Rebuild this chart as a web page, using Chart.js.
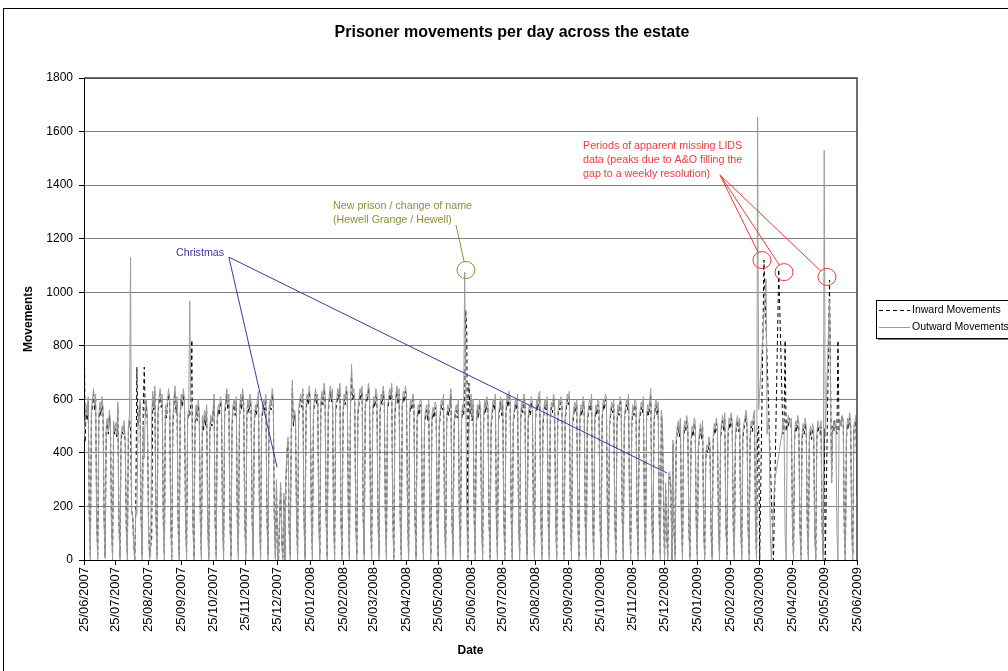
<!DOCTYPE html>
<html>
<head>
<meta charset="utf-8">
<title>Prisoner movements per day across the estate</title>
<script src="https://cdn.jsdelivr.net/npm/chart.js@4.4.0/dist/chart.umd.min.js"></script>
<style>
    html, body { margin: 0; padding: 0; background: #fff; overflow: hidden; }
    #chartWrap { width: 1024px; height: 671px; position: relative; }
</style>
</head>
<body>
<div id="chartWrap"><canvas id="movementsChart"></canvas></div>
<script>
// Daily values, one row per week (Monday to Sunday), starting Monday 25/06/2007
// null = day missing from LIDS, the line is carried straight across
const inwardMovements = [
    [1060,440,560,520,590,170,20], [540,580,620,560,600,150,20], [520,570,540,590,550,160,10],
    [480,510,470,540,500,140,20], [500,470,490,460,570,150,10], [440,480,470,500,430,130,20],
    [480,520,500,190,160,60,0], [200,720,500,540,580,170,20], [560,720,540,580,500,150,10],
    [50,80,610,560,630,180,20], [540,590,620,570,600,150,20], [560,530,580,620,590,160,10],
    [500,580,630,550,590,150,20], [540,600,570,620,580,170,20], [520,560,540,580,821,150,10],
    [500,560,520,580,540,160,20], [520,480,540,500,560,150,10], [480,520,500,540,600,150,20],
    [520,560,540,590,570,170,20], [540,580,620,560,600,160,10], [500,560,580,540,590,150,20],
    [520,600,560,620,580,170,20], [540,580,550,600,570,160,10], [500,560,540,580,610,150,20],
    [520,550,580,560,600,170,20], [540,580,560,620,590,160,10], [280,20,0,160,270,80,10],
    [230,0,300,400,440,120,20], [460,640,500,540,520,160,20], [540,580,600,570,620,170,10],
    [560,600,580,630,590,160,20], [540,590,620,580,600,170,20], [570,610,580,640,600,160,10],
    [550,600,630,590,620,170,20], [560,580,620,600,640,160,20], [540,600,580,630,610,170,10],
    [560,700,600,620,590,160,20], [540,580,620,600,630,170,20], [570,600,590,640,610,160,10],
    [540,590,570,620,600,170,20], [550,600,580,630,590,160,20], [560,580,620,600,640,170,10],
    [540,600,630,580,620,160,20], [570,610,590,630,600,170,20], [540,580,560,600,580,160,10],
    [520,560,540,580,570,150,20], [500,540,560,520,580,160,20], [520,550,530,570,560,150,10],
    [500,540,580,560,600,160,20], [520,560,540,580,620,150,20], [500,540,560,530,580,160,10],
    [520,560,540,600,933,847,10], [660,540,600,520,580,160,20], [500,560,530,580,550,150,20],
    [520,580,550,590,560,160,10], [500,540,580,560,600,150,20], [520,560,590,540,580,160,20],
    [540,600,570,610,580,170,10], [510,550,580,560,600,150,20], [530,570,550,600,580,160,20],
    [510,560,540,590,570,150,10], [520,580,560,600,610,160,20], [500,550,580,560,590,150,20],
    [530,570,550,600,580,170,10], [510,580,560,590,570,160,20], [520,560,600,580,610,150,20],
    [500,540,570,550,580,160,10], [520,560,540,590,570,150,20], [500,550,580,560,600,160,20],
    [510,560,540,580,570,150,10], [520,580,560,600,590,160,20], [500,540,570,550,580,150,20],
    [510,560,540,590,570,160,10], [520,550,580,560,600,150,20], [500,560,540,580,570,160,20],
    [510,540,570,550,590,150,10], [520,560,540,580,620,160,20], [500,560,580,540,570,150,20],
    [540,500,230,0,270,110,10], [300,310,260,0,430,110,20], [430,480,500,460,510,140,20],
    [450,500,480,520,490,130,10], [430,480,460,510,500,140,20], [410,460,490,450,500,120,20],
    [380,410,400,440,420,110,10], [440,490,470,510,480,130,20], [450,500,520,480,530,140,20],
    [460,510,490,530,500,130,10], [440,500,520,480,510,140,20], [450,490,510,540,500,130,20],
    [460,500,480,520,540,140,10], [480,500,0,null,null,null,1120], [null,null,null,null,null,null,null],
    [null,0,null,null,null,null,1085], [null,null,null,470,490,820,480], [520,500,530,510,490,120,10],
    [450,500,480,520,490,140,20], [440,490,470,510,480,130,20], [460,480,450,490,470,120,10],
    [450,500,480,470,500,130,20], [490,0,null,null,null,1045,null], [290,500,480,520,500,470,820],
    [480,520,500,540,510,100,0], [450,510,490,530,500,130,20], [480,500,520,240]
].flat();

const outwardMovements = [
    [450,520,580,540,610,150,0], [560,600,640,580,620,120,0], [540,590,560,610,570,140,5],
    [500,530,480,560,520,110,0], [520,480,510,470,590,130,0], [460,500,480,520,440,100,0],
    [500,540,1130,180,170,60,0], [190,170,480,560,600,150,0], [500,380,560,600,520,120,0],
    [20,540,630,580,650,160,0], [560,610,640,590,620,130,0], [580,550,600,640,610,140,0],
    [520,600,650,570,610,120,0], [560,620,590,640,600,150,0], [540,560,968,600,580,130,0],
    [520,580,540,600,560,140,0], [540,500,560,520,580,120,0], [500,540,520,560,620,130,0],
    [540,580,560,610,590,150,0], [560,600,640,580,620,140,0], [520,580,600,560,610,130,0],
    [540,620,580,640,600,150,0], [560,600,570,620,590,140,0], [520,580,560,600,630,130,0],
    [540,570,600,580,620,150,0], [560,600,580,640,610,140,0], [300,0,0,180,290,60,0],
    [250,0,320,420,460,100,0], [480,672,520,560,540,140,0], [560,600,620,590,640,150,0],
    [580,620,600,650,610,140,0], [560,610,640,600,620,150,0], [590,630,600,660,620,140,0],
    [570,620,650,610,640,150,0], [580,600,640,620,660,140,0], [560,620,600,650,630,150,0],
    [580,730,620,640,610,140,0], [560,600,640,620,650,150,0], [590,620,610,660,630,140,0],
    [560,610,590,640,620,150,0], [570,620,600,650,610,140,0], [580,600,640,620,660,150,0],
    [560,620,650,600,640,140,0], [590,630,610,650,620,150,0], [560,600,580,620,600,140,0],
    [540,580,560,600,590,130,0], [520,560,580,540,600,140,0], [540,570,550,590,580,130,0],
    [520,560,600,580,620,140,0], [540,580,560,600,640,130,0], [520,560,580,550,600,140,0],
    [540,580,560,1075,640,150,0], [500,560,620,540,600,140,0], [520,580,550,600,570,130,0],
    [540,600,570,610,580,140,0], [520,560,600,580,620,130,0], [540,580,610,560,600,140,0],
    [560,620,590,630,600,150,0], [530,570,600,580,620,130,0], [550,590,570,620,600,140,0],
    [530,580,560,610,590,130,0], [540,600,580,620,630,140,0], [520,570,600,580,610,130,0],
    [550,590,570,620,600,150,0], [530,600,580,610,590,140,0], [540,580,620,600,630,130,0],
    [520,560,590,570,600,140,0], [540,580,560,610,590,130,0], [520,570,600,580,620,140,0],
    [530,580,560,600,590,130,0], [540,600,580,620,610,140,0], [520,560,590,570,600,130,0],
    [530,580,560,610,590,140,0], [540,570,600,580,620,130,0], [520,580,560,600,590,140,0],
    [530,560,590,570,610,130,0], [540,580,560,600,640,140,0], [520,580,600,560,590,130,0],
    [560,520,250,0,288,100,0], [325,330,280,0,448,90,0], [450,500,520,480,530,120,0],
    [470,520,500,540,510,110,0], [450,500,480,530,520,120,0], [430,480,510,470,520,100,0],
    [400,430,420,460,440,90,0], [460,510,490,530,500,110,0], [470,520,540,500,550,120,0],
    [480,530,510,550,520,110,0], [460,520,540,500,530,120,0], [470,510,530,560,520,110,0],
    [480,520,500,540,560,120,0], [1654,560,null,null,null,null,null], [null,1050,470,520,480,100,0],
    [null,null,290,null,null,null,null], [null,null,470,530,500,100,0], [480,540,520,500,530,110,0],
    [470,520,500,540,510,120,0], [460,510,490,530,500,110,0], [480,500,470,510,490,100,0],
    [470,520,500,490,520,110,0], [1530,460,null,null,null,970,null], [290,480,520,500,510,110,0],
    [480,520,500,540,510,120,0], [470,530,510,550,520,110,0], [500,520,540,250]
].flat();

const tickLabels = [
    '25/06/2007', '25/07/2007', '25/08/2007', '25/09/2007', '25/10/2007', '25/11/2007',
    '25/12/2007', '25/01/2008', '25/02/2008', '25/03/2008', '25/04/2008', '25/05/2008',
    '25/06/2008', '25/07/2008', '25/08/2008', '25/09/2008', '25/10/2008', '25/11/2008',
    '25/12/2008', '25/01/2009', '25/02/2009', '25/03/2009', '25/04/2009', '25/05/2009',
    '25/06/2009'
];

const yTicks = [0, 200, 400, 600, 800, 1000, 1200, 1400, 1600, 1800];

// One date label per day
const dateLabels = [];
const startDay = Date.UTC(2007, 5, 25);
function pad(n) { return n < 10 ? '0' + n : '' + n; }
for (let i = 0; i < outwardMovements.length; i++) {
    const d = new Date(startDay + i * 86400000);
    dateLabels.push(pad(d.getUTCDate()) + '/' + pad(d.getUTCMonth() + 1) + '/' + d.getUTCFullYear());
}
const tickIndex = tickLabels.map(t => dateLabels.indexOf(t));

// Call-outs, placed in chart units (day index, movements)
const notes = [
    {
        color: '#3a3a9e',
        lines: ['Christmas'],
        textAt: [87, 1146],
        from: [137, 1131],
        targets: [[182.5, 347], [551.3, 325]],
        radius: 0
    },
    {
        color: '#8e8e3e',
        lines: ['New prison / change of name', '(Hewell Grange / Hewell)'],
        textAt: [235.5, 1322],
        from: [351.8, 1251],
        targets: [[361.2, 1083]],
        radius: 8.5
    },
    {
        color: '#f03a3a',
        lines: ['Periods of apparent missing LIDS', 'data (peaks due to A&O filling the', 'gap to a weekly resolution)'],
        textAt: [471.9, 1546],
        from: [601.4, 1438],
        targets: [[641.1, 1120], [662, 1075], [702.6, 1057]],
        radius: 8.5
    }
];

const FONT = "'Liberation Sans', Arial, sans-serif";
Chart.defaults.font.family = FONT;
Chart.defaults.color = '#000';

function drawNote(ctx, x, y, note) {
    ctx.save();
    ctx.fillStyle = note.color;
    ctx.strokeStyle = note.color;
    ctx.lineWidth = 1;
    ctx.font = '10.7px ' + FONT;
    ctx.textAlign = 'left';
    ctx.textBaseline = 'middle';
    const tx0 = x.getPixelForValue(note.textAt[0]);
    const ty0 = y.getPixelForValue(note.textAt[1]);
    note.lines.forEach((t, k) => ctx.fillText(t, tx0, ty0 + k * 14));

    const fx = x.getPixelForValue(note.from[0]);
    const fy = y.getPixelForValue(note.from[1]);
    note.targets.forEach(target => {
        let tx = x.getPixelForValue(target[0]);
        let ty = y.getPixelForValue(target[1]);
        if (note.radius) {
            ctx.beginPath();
            ctx.ellipse(tx, ty, note.radius + 0.5, note.radius, 0, 0, Math.PI * 2);
            ctx.stroke();
            const dx = tx - fx, dy = ty - fy, len = Math.hypot(dx, dy);
            tx -= dx / len * note.radius;
            ty -= dy / len * note.radius;
        }
        ctx.beginPath();
        ctx.moveTo(fx, fy);
        ctx.lineTo(tx, ty);
        ctx.stroke();
    });
    ctx.restore();
}

const decorations = {
    id: 'decorations',
    beforeDraw(chart) {
        const ctx = chart.ctx;
        ctx.save();
        ctx.fillStyle = '#fff';
        ctx.fillRect(0, 0, chart.width, chart.height);
        ctx.strokeStyle = '#000';
        ctx.lineWidth = 1;
        ctx.strokeRect(3.5, 8.5, chart.width, chart.height);
        ctx.restore();
    },
    afterDraw(chart) {
        const ctx = chart.ctx;
        const area = chart.chartArea;
        const x = chart.scales.x, y = chart.scales.y;

        ctx.save();
        // plot area frame, top and right
        ctx.strokeStyle = '#404040';
        ctx.lineWidth = 1.5;
        ctx.beginPath();
        ctx.moveTo(area.left, area.top);
        ctx.lineTo(area.right, area.top);
        ctx.lineTo(area.right, area.bottom);
        ctx.stroke();

        // title
        ctx.fillStyle = '#000';
        ctx.font = 'bold 16px ' + FONT;
        ctx.textAlign = 'center';
        ctx.textBaseline = 'middle';
        ctx.fillText('Prisoner movements per day across the estate', chart.width / 2, 33);
        ctx.restore();

        notes.forEach(n => drawNote(ctx, x, y, n));

        // legend
        const lx = 876, ly = 300, lw = 160, lh = 38;
        ctx.save();
        ctx.fillStyle = '#7a7a7a';
        ctx.fillRect(lx + 2, ly + 2, lw, lh);
        ctx.fillStyle = '#fff';
        ctx.fillRect(lx, ly, lw, lh);
        ctx.strokeStyle = '#000';
        ctx.lineWidth = 1;
        ctx.strokeRect(lx + 0.5, ly + 0.5, lw, lh);

        ctx.strokeStyle = '#000';
        ctx.setLineDash([4, 3]);
        ctx.beginPath();
        ctx.moveTo(lx + 3, ly + 10.5);
        ctx.lineTo(lx + 34, ly + 10.5);
        ctx.stroke();
        ctx.setLineDash([]);
        ctx.strokeStyle = '#9a9a9a';
        ctx.lineWidth = 1;
        ctx.beginPath();
        ctx.moveTo(lx + 3, ly + 27.5);
        ctx.lineTo(lx + 34, ly + 27.5);
        ctx.stroke();

        ctx.fillStyle = '#000';
        ctx.font = '10.5px ' + FONT;
        ctx.textAlign = 'left';
        ctx.textBaseline = 'middle';
        ctx.fillText('Inward Movements', lx + 36, ly + 10);
        ctx.fillText('Outward Movements', lx + 36, ly + 27);
        ctx.restore();
    }
};

const ctx = document.getElementById('movementsChart').getContext('2d');

new Chart(ctx, {
    type: 'line',
    data: {
        datasets: [
            {
                label: 'Inward Movements',
                data: inwardMovements.map((v, i) => ({ x: i, y: v })),
                borderColor: '#000',
                borderWidth: 1,
                borderDash: [4, 3],
                pointRadius: 0,
                tension: 0,
                spanGaps: true,
                order: 2
            },
            {
                label: 'Outward Movements',
                data: outwardMovements.map((v, i) => ({ x: i, y: v })),
                borderColor: '#9c9c9c',
                borderWidth: 1,
                pointRadius: 0,
                tension: 0,
                spanGaps: true,
                order: 1
            }
        ]
    },
    options: {
        responsive: true,
        maintainAspectRatio: false,
        animation: false,
        layout: {
            padding: { left: 0, right: 167, top: 78, bottom: 0 }
        },
        plugins: {
            legend: { display: false },
            title: { display: false },
            tooltip: { enabled: false }
        },
        scales: {
            x: {
                type: 'linear',
                min: 0,
                max: dateLabels.length - 1,
                afterBuildTicks: scale => {
                    scale.ticks = tickIndex.map(v => ({ value: v }));
                },
                afterFit: scale => { scale.height = 111; },
                ticks: {
                    autoSkip: false,
                    maxRotation: 90,
                    minRotation: 90,
                    padding: 2,
                    font: { size: 13 },
                    callback: value => dateLabels[value]
                },
                grid: {
                    drawOnChartArea: false,
                    tickLength: 5,
                    tickColor: '#000'
                },
                border: { color: '#000', width: 1 },
                title: {
                    display: true,
                    text: 'Date',
                    font: { size: 12, weight: 'bold' },
                    padding: { top: 0, bottom: 13 }
                }
            },
            y: {
                min: 0,
                max: 1800,
                afterBuildTicks: scale => {
                    scale.ticks = yTicks.map(v => ({ value: v }));
                },
                afterFit: scale => { scale.width = 84; },
                ticks: {
                    padding: 6,
                    font: { size: 12 },
                    callback: value => String(value)
                },
                grid: {
                    color: '#808080',
                    tickLength: 5,
                    tickColor: '#000'
                },
                border: { color: '#000', width: 1 },
                title: {
                    display: true,
                    text: 'Movements',
                    font: { size: 12, weight: 'bold' },
                    padding: { top: 21, bottom: 0 }
                }
            }
        }
    },
    plugins: [decorations]
});
</script>
</body>
</html>
